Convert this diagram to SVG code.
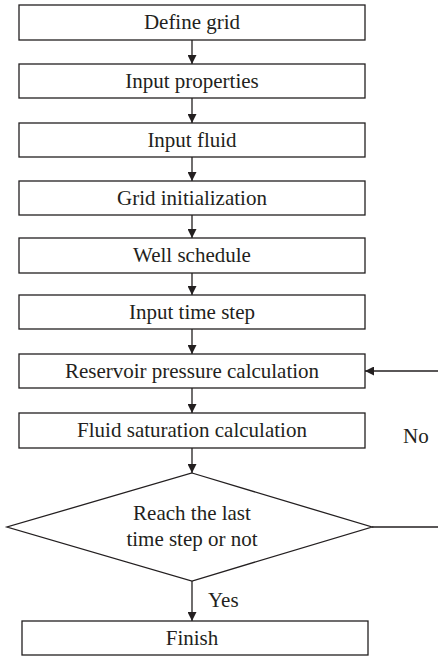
<svg xmlns="http://www.w3.org/2000/svg" width="438" height="656" viewBox="0 0 438 656">
<style>
.box{fill:#fff;stroke:#231f20;stroke-width:1.3}
.t{font-family:"Liberation Serif",serif;font-size:21px;fill:#231f20;text-anchor:middle}
.l{font-family:"Liberation Serif",serif;font-size:21px;fill:#231f20}
.c{fill:none;stroke:#231f20;stroke-width:1.3}
</style>
<defs>
<marker id="ah" viewBox="0 0 10 10" refX="10" refY="5" markerWidth="9" markerHeight="9" markerUnits="userSpaceOnUse" orient="auto">
<path d="M0,0 L10,5 L0,10 z" fill="#231f20"/>
</marker>
</defs>
<rect width="438" height="656" fill="#fff"/>
<g id="connectors">
<line class="c" x1="192" y1="40" x2="192" y2="64" marker-end="url(#ah)"/>
<line class="c" x1="192" y1="98" x2="192" y2="123" marker-end="url(#ah)"/>
<line class="c" x1="192" y1="157" x2="192" y2="181" marker-end="url(#ah)"/>
<line class="c" x1="192" y1="215" x2="192" y2="238" marker-end="url(#ah)"/>
<line class="c" x1="192" y1="273" x2="192" y2="295" marker-end="url(#ah)"/>
<line class="c" x1="192" y1="329" x2="192" y2="354" marker-end="url(#ah)"/>
<line class="c" x1="192" y1="388" x2="192" y2="413" marker-end="url(#ah)"/>
<line class="c" x1="192" y1="448" x2="192" y2="473" marker-end="url(#ah)"/>
<line class="c" x1="192" y1="581" x2="192" y2="621" marker-end="url(#ah)"/>
<line class="c" x1="372" y1="527" x2="440" y2="527"/>
<line class="c" x1="440" y1="371" x2="365" y2="371" marker-end="url(#ah)"/>
<text class="l" x="403" y="443">No</text>
<text class="l" x="208" y="607">Yes</text>
</g>
<g id="n1"><rect class="box" x="19" y="5" width="346" height="35"/><text class="t" x="192" y="29">Define grid</text></g>
<g id="n2"><rect class="box" x="19" y="64" width="346" height="34"/><text class="t" x="192" y="88">Input properties</text></g>
<g id="n3"><rect class="box" x="19" y="123" width="346" height="34"/><text class="t" x="192" y="147">Input fluid</text></g>
<g id="n4"><rect class="box" x="19" y="181" width="346" height="34"/><text class="t" x="192" y="205">Grid initialization</text></g>
<g id="n5"><rect class="box" x="19" y="238" width="346" height="35"/><text class="t" x="192" y="262">Well schedule</text></g>
<g id="n6"><rect class="box" x="19" y="295" width="346" height="34"/><text class="t" x="192" y="319">Input time step</text></g>
<g id="n7"><rect class="box" x="19" y="354" width="346" height="34"/><text class="t" x="192" y="378">Reservoir pressure calculation</text></g>
<g id="n8"><rect class="box" x="19" y="413" width="346" height="35"/><text class="t" x="192" y="437">Fluid saturation calculation</text></g>
<g id="n9"><polygon class="box" points="192,473 372,527 192,581 7,527"/><text class="t" x="192" y="520">Reach the last</text><text class="t" x="192" y="546">time step or not</text></g>
<g id="n10"><rect class="box" x="22" y="621" width="346" height="34"/><text class="t" x="192" y="645">Finish</text></g>
</svg>
